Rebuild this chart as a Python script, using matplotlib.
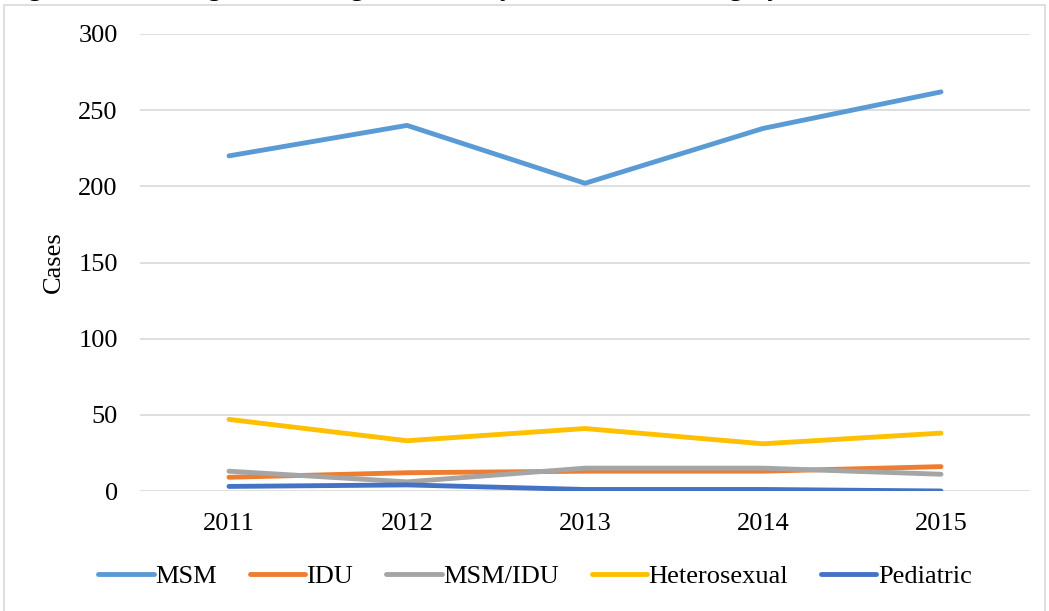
import matplotlib
matplotlib.use('Agg')
import matplotlib.pyplot as plt
from matplotlib.patches import Rectangle

# data
years = ['2011', '2012', '2013', '2014', '2015']
msm = [220, 240, 202, 238, 262]
idu = [9, 12, 13, 13, 16]
msm_idu = [13, 6, 15, 15, 11]
heterosexual = [47, 33, 41, 31, 38]
pediatric = [3, 4, 1, 1, 0]

series = [
    ('MSM', msm, '#5B9BD5'),
    ('IDU', idu, '#ED7D31'),
    ('MSM/IDU', msm_idu, '#A5A5A5'),
    ('Heterosexual', heterosexual, '#FFC000'),
    ('Pediatric', pediatric, '#4472C4'),
]

plt.rcParams['font.family'] = ['Liberation Serif', 'DejaVu Serif']

W, H = 1049, 611
fig = plt.figure(figsize=(W / 100, H / 100), dpi=100)

# chart frame (light grey border, bottom runs off the image)
fig.patches.append(Rectangle((4 / W, -0.05), 1041 / W, 1 - 5 / H + 0.05,
                             transform=fig.transFigure, fill=False,
                             edgecolor='#D9D9D9', linewidth=1.2))

# title cut off at the top edge, only descenders visible (as in the source)
fig.text(5 / W, 1 + 4 / H, 'Figure 4. HIV Diagnoses among Residents by Transmission Category, Rhode Island, 2011-2015',
         fontsize=19, fontweight='bold', va='baseline', ha='left')

ax = fig.add_axes([140 / W, 1 - 491 / H, 890 / W, 457 / H])
x = list(range(len(years)))
for name, vals, color in series:
    ax.plot(x, vals, color=color, linewidth=3.5, solid_capstyle='round',
            solid_joinstyle='round', label=name)

ax.set_xlim(-0.5, len(years) - 0.5)
ax.set_ylim(0, 300)
ax.set_yticks(range(0, 301, 50))
ax.set_xticks(x)
ax.set_xticklabels(years)
ax.yaxis.grid(True, color='#D9D9D9', linewidth=1.2)
ax.set_axisbelow(True)
for s in ax.spines.values():
    s.set_visible(False)
ax.tick_params(axis='both', length=0, labelsize=19)
ax.tick_params(axis='y', pad=16)
ax.tick_params(axis='x', pad=16)
ax.set_ylabel('Cases', fontsize=19, labelpad=10)

fig.legend(loc='center', bbox_to_anchor=(535 / W, 1 - 576 / H), ncol=5,
           frameon=False, fontsize=19, handlelength=2.1, handletextpad=0.05,
           columnspacing=1.25)

fig.savefig('out.png', dpi=100)
